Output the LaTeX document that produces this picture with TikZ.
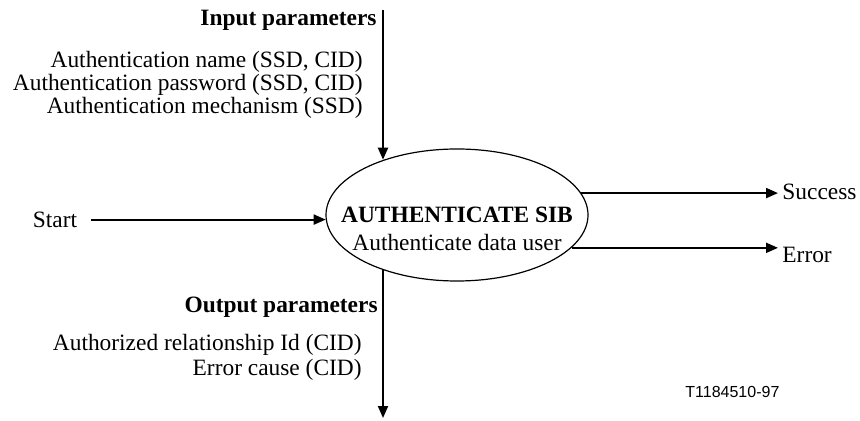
\documentclass[tikz,border=0pt]{standalone}
\usepackage{fontspec}
\setmainfont{Liberation Serif}
\newfontfamily\figsans{Liberation Sans}
\usetikzlibrary{shapes.geometric,arrows.meta,positioning}

\begin{document}
\begin{tikzpicture}[x=0.5pt,y=-0.5pt,
    every node/.style={font=\fontsize{11.7}{14}\selectfont, inner sep=0pt},
    param/.style={anchor=east},
    result/.style={anchor=west},
    flow/.style={line width=1pt,-{Triangle[length=6pt,width=5pt]}}]
    \useasboundingbox (0,0) rectangle (860,421);

    % the SIB
    \node[draw, ellipse, line width=0.6pt, minimum width=131pt, minimum height=66pt] (sib) at (457,215) {};
    \node[align=center] (sibText) at (457,229) {\textbf{AUTHENTICATE SIB}\\Authenticate data user};

    % input parameters
    \coordinate (inTop) at (383,10);
    \node[param] (inHead) at (377,20) {\bfseries Input parameters};
    \node[param] (inName) at (363,62) {Authentication name (SSD, CID)};
    \node[param] (inPass) at (363,85) {Authentication password (SSD, CID)};
    \node[param] (inMech) at (363,108) {Authentication mechanism (SSD)};
    \draw[flow] (inTop) -- (inTop |- sib.143.6);

    % start
    \node (start) at (55,220) {Start};
    \coordinate[right=7pt of start.east] (startTail);
    \draw[flow] (startTail |- sib.182.2) -- (sib.182.2);

    % exits
    \node[result] (success) at (782,192) {Success};
    \node[result] (error) at (782,255) {Error};
    \coordinate[left=2pt of success.west] (successTip);
    \coordinate[left=2pt of error.west] (errorTip);
    \draw[flow] (sib.10.6) -- (successTip |- sib.10.6);
    \draw[flow] (sib.-16.2) -- (errorTip |- sib.-16.2);

    % output parameters
    \node[param] (outHead) at (378,307) {\bfseries Output parameters};
    \node[param] (outRel) at (362,345) {Authorized relationship Id (CID)};
    \node[param] (outCause) at (362,370) {Error cause (CID)};
    \coordinate (outEnd) at (383,418);
    \draw[flow] (outEnd |- sib.216.4) -- (outEnd);

    \node[result, font=\figsans\fontsize{8}{10}\selectfont] (figId) at (685,392) {T1184510-97};
\end{tikzpicture}
\end{document}
